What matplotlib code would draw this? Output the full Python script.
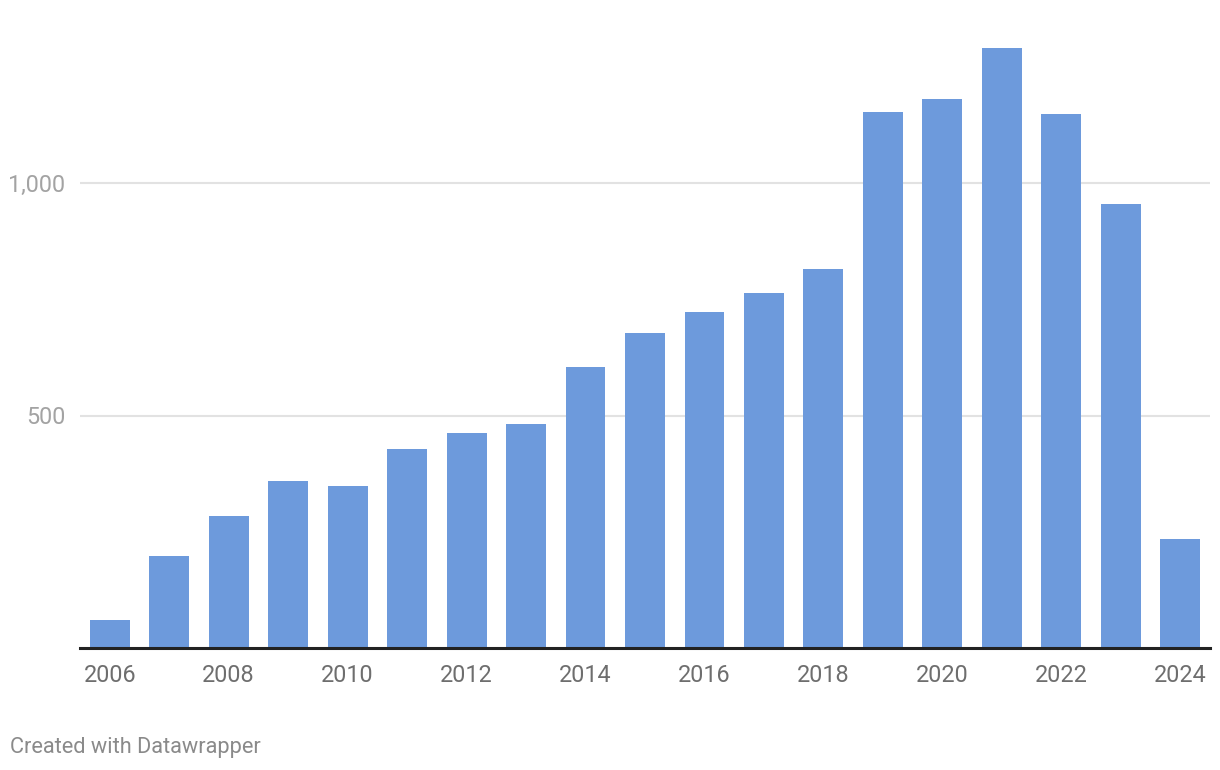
import matplotlib
matplotlib.use("Agg")
import matplotlib.pyplot as plt

years = list(range(2006, 2025))
values = [60, 198, 284, 359, 348, 428, 462, 482, 604, 677, 723, 763, 815,
          1153, 1181, 1290, 1148, 955, 234]
y_ticks = [500, 1000]
y_tick_labels = ["500", "1,000"]
x_ticks = list(range(2006, 2025, 2))

plt.rcParams["font.family"] = ["Roboto", "DejaVu Sans"]

W, H = 1220, 770
fig = plt.figure(figsize=(W / 100, H / 100), dpi=100)
ax = fig.add_axes([80 / W, (H - 648) / H, (1210 - 80) / W, (648 - 40) / H])

ax.bar(years, values, width=0.67, color="#6d9adc", zorder=2)

ax.set_xlim(2005.5, 2024.5)
ax.set_ylim(0, (648 - 40) / 0.465)

ax.set_yticks(y_ticks)
ax.set_yticklabels(y_tick_labels)
ax.yaxis.grid(True, color="#e2e2e2", linewidth=1.5, zorder=0)
ax.tick_params(axis="y", length=0, pad=10.5, labelsize=16.8, labelcolor="#a3a3a3")

ax.set_xticks(x_ticks)
ax.set_xticklabels([str(x) for x in x_ticks])
ax.tick_params(axis="x", length=0, pad=11.5, labelsize=16.8, labelcolor="#6e6e6e")

for side in ["top", "right", "left"]:
    ax.spines[side].set_visible(False)
ax.spines["bottom"].set_color("#222222")
ax.spines["bottom"].set_linewidth(2.2)
ax.spines["bottom"].set_zorder(3)

fig.text(10 / W, 1 - 748 / H, "Created with Datawrapper", fontsize=15.7,
         color="#8a8a8a", ha="left", va="center")

fig.savefig("out.png", dpi=100)
